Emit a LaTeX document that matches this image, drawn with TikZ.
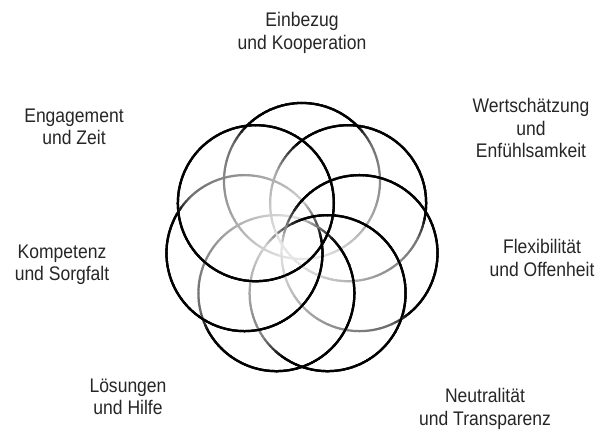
\documentclass[tikz,border=0pt]{standalone}
\usepackage{fontspec}
\setmainfont{Liberation Sans}[FakeStretch=0.89]

\begin{document}
\begin{tikzpicture}[x=0.025cm,y=0.025cm,
  lbl/.style={align=center,text=black!85,font=\fontsize{14}{16}\selectfont},
  ring/.style={line width=1.6pt}]
\useasboundingbox (0,0) rectangle (605,433);
\coordinate (o) at (302,193);
\def\ringr{1.475cm}
\def\rad{1.95cm}
\foreach \pass in {1,2}
\foreach \t/\a/\w in {90/45/90, 141.43/0/360, 192.86/150/220, 244.29/210/190,
                      295.71/235/235, 347.14/310/190, 38.57/350/140}{
  \foreach \p in {0,3,...,357}{
    \pgfmathsetmacro\m{\p+1.5}
    \pgfmathsetmacro\s{mod(\m-\a+720,360)}
    \pgfmathsetmacro\d{\s<=\w ? 0 : min(\s-\w,360-\s)}
    \pgfmathsetmacro\dst{sqrt((0.59*cos(\t)+0.78*cos(\m))^2+(0.59*sin(\t)+0.78*sin(\m))^2)}
    \pgfmathsetmacro\g{10+55*(\dst-0.19)/1.18}
    \pgfmathtruncatemacro\dk{max(\g,100-2.5*\d)}
    \ifnum\pass=1
      \draw[ring,black!\dk] (o) ++(\t:\ringr) ++(\p:\rad) arc[start angle=\p,end angle=\p+3.3,radius=\rad];
    \else\ifnum\dk>85
      \draw[ring,black!\dk] (o) ++(\t:\ringr) ++(\p:\rad) arc[start angle=\p,end angle=\p+3.3,radius=\rad];
    \fi\fi
  }
}
\node[lbl] (einbezug) at (302,400) {Einbezug\\und Kooperation};
\node[lbl] (engagement) at (74,306) {Engagement\\und Zeit};
\node[lbl] (wertschaetzung) at (531,305) {Wertschätzung\\und\\Enfühlsamkeit};
\node[lbl] (kompetenz) at (62,168) {Kompetenz\\und Sorgfalt};
\node[lbl] (flexibilitaet) at (542,175) {Flexibilität\\und Offenheit};
\node[lbl] (loesungen) at (128,36) {Lösungen\\und Hilfe};
\node[lbl] (neutralitaet) at (485,24) {Neutralität\\und Transparenz};
\end{tikzpicture}
\end{document}
